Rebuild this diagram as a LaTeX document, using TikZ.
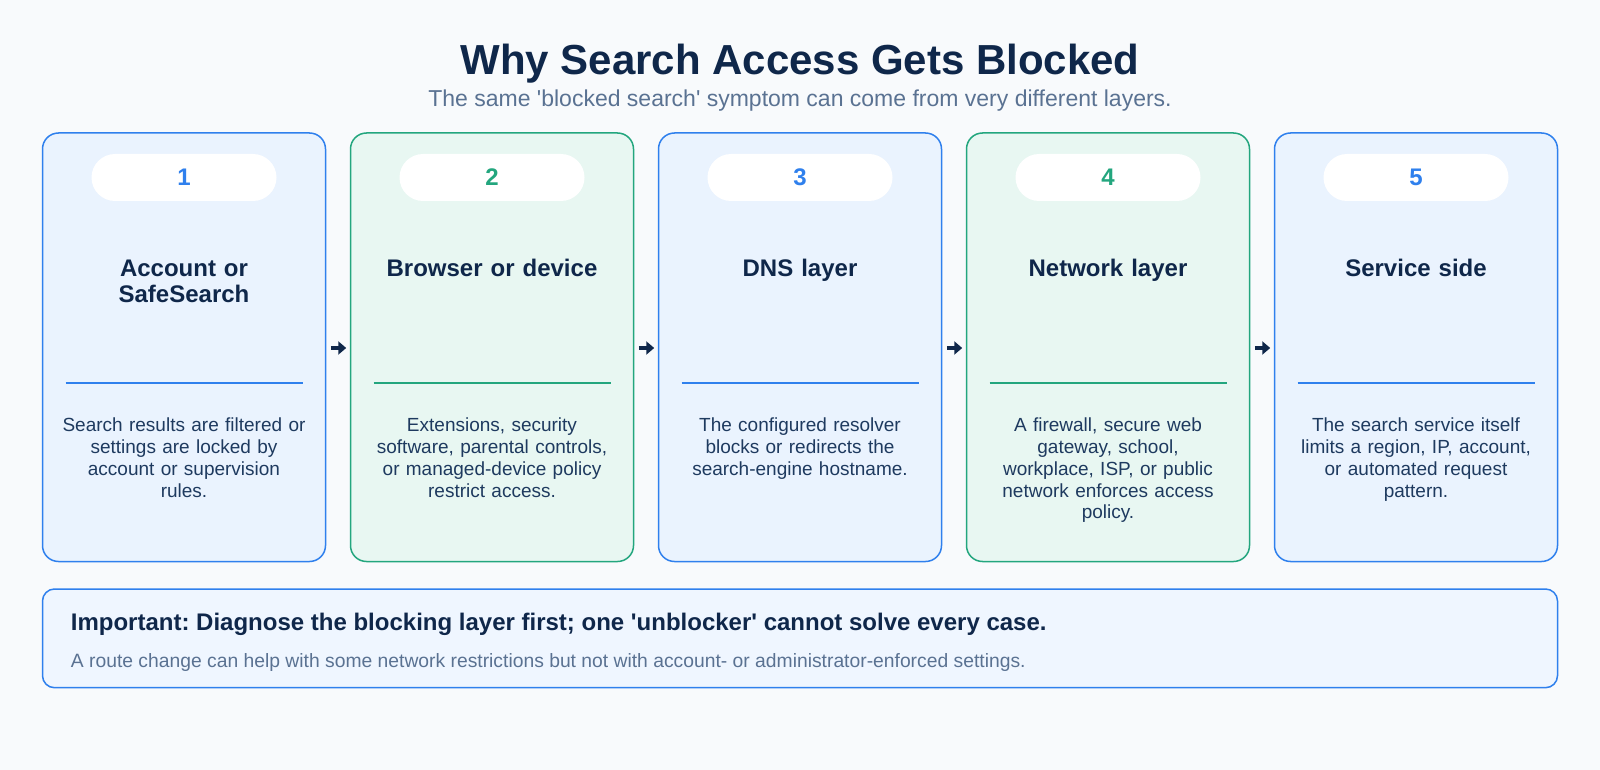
\documentclass[tikz,border=0pt]{standalone}
\usepackage{fontspec}
\setmainfont{Liberation Sans}
\frenchspacing
\usetikzlibrary{arrows.meta}
\definecolor{bg}{HTML}{F8FAFC}
\definecolor{navy}{HTML}{0F274A}
\definecolor{desc}{HTML}{1E3A5F}
\definecolor{slate}{HTML}{5A7292}
\definecolor{bluebd}{HTML}{2F80ED}
\definecolor{greenbd}{HTML}{23A67E}
\definecolor{bluefill}{HTML}{EAF3FE}
\definecolor{greenfill}{HTML}{E8F7F2}
\definecolor{notefill}{HTML}{EFF6FF}
\begin{document}
\begin{tikzpicture}[x=1pt,y=-1pt,
  card/.style={draw, line width=1.5pt, rounded corners=16pt, minimum width=283pt, minimum height=428.5pt, inner sep=0pt},
  bluecard/.style={card, draw=bluebd, fill=bluefill},
  greencard/.style={card, draw=greenbd, fill=greenfill},
  pill/.style={fill=white, rounded corners=23.5pt, minimum width=185pt, minimum height=47pt, inner sep=0pt, font=\fontsize{24}{28}\selectfont\bfseries},
  bluepill/.style={pill, text=bluebd},
  greenpill/.style={pill, text=greenbd},
  heading/.style={anchor=base, inner sep=0pt, text width=270pt, align=center, text=navy, font=\fontsize{24}{25.6}\selectfont\bfseries},
  desctext/.style={anchor=base, inner sep=0pt, text width=270pt, align=center, text=desc, font=\fontsize{19}{21.8}\selectfont},
  bluediv/.style={draw=bluebd, line width=1.8pt},
  greendiv/.style={draw=greenbd, line width=1.8pt},
  flow/.style={draw=navy, line width=4pt, -{Triangle[length=8pt,width=13pt]}},
]
\fill[bg] (0,0) rectangle (1600,770);
\useasboundingbox (0,0) rectangle (1600,770);

% title
\node[anchor=base, inner sep=0pt, text=navy, font=\fontsize{42}{50}\selectfont\bfseries] (title) at (800,74.3) {Why Search Access Gets Blocked};
\node[anchor=base, inner sep=0pt, text=slate, font=\fontsize{23}{27}\selectfont] (subtitle) at (800,106.7) {The same \textquotesingle blocked search\textquotesingle{} symptom can come from very different layers.};

% cards
\node[bluecard]  (c1) at (184,347.25) {};
\node[greencard] (c2) at (492,347.25) {};
\node[bluecard]  (c3) at (800,347.25) {};
\node[greencard] (c4) at (1108,347.25) {};
\node[bluecard]  (c5) at (1416,347.25) {};

% pills
\node[bluepill]  (p1) at (184,177.5) {1};
\node[greenpill] (p2) at (492,177.5) {2};
\node[bluepill]  (p3) at (800,177.5) {3};
\node[greenpill] (p4) at (1108,177.5) {4};
\node[bluepill]  (p5) at (1416,177.5) {5};

% headings
\node[heading] (h1) at (184,276.5) {Account or\\SafeSearch};
\node[heading] (h2) at (492,276) {Browser or device};
\node[heading] (h3) at (800,276) {DNS layer};
\node[heading] (h4) at (1108,276) {Network layer};
\node[heading] (h5) at (1416,276) {Service side};

% dividers
\draw[bluediv]  (65.5,382.7) -- (302.5,382.7);
\draw[greendiv] (373.5,382.7) -- (610.5,382.7);
\draw[bluediv]  (681.5,382.7) -- (918.5,382.7);
\draw[greendiv] (989.5,382.7) -- (1226.5,382.7);
\draw[bluediv]  (1297.5,382.7) -- (1534.5,382.7);

% descriptions
\node[desctext] (d1) at (184,431.7) {Search results are filtered or\\settings are locked by\\account or supervision\\rules.};
\node[desctext] (d2) at (492,431.7) {Extensions, security\\software, parental controls,\\or managed-device policy\\restrict access.};
\node[desctext] (d3) at (800,431.7) {The configured resolver\\blocks or redirects the\\search-engine hostname.};
\node[desctext] (d4) at (1108,431.7) {A firewall, secure web\\gateway, school,\\workplace, ISP, or public\\network enforces access\\policy.};
\node[desctext] (d5) at (1416,431.7) {The search service itself\\limits a region, IP, account,\\or automated request\\pattern.};

% arrows
\draw[flow] ([xshift=4.5pt,yshift=-0.75pt]c1.east) -- ([xshift=-3.5pt,yshift=-0.75pt]c2.west);
\draw[flow] ([xshift=4.5pt,yshift=-0.75pt]c2.east) -- ([xshift=-3.5pt,yshift=-0.75pt]c3.west);
\draw[flow] ([xshift=4.5pt,yshift=-0.75pt]c3.east) -- ([xshift=-3.5pt,yshift=-0.75pt]c4.west);
\draw[flow] ([xshift=4.5pt,yshift=-0.75pt]c4.east) -- ([xshift=-3.5pt,yshift=-0.75pt]c5.west);

% note box
\node[draw=bluebd, fill=notefill, line width=1.5pt, rounded corners=12pt, minimum width=1515pt, minimum height=98.7pt, inner sep=0pt] (note) at (800,638.35) {};
\node[anchor=base west, inner sep=0pt, text=navy, font=\fontsize{24}{28}\selectfont\bfseries] (notehead) at (70.7,630) {Important: Diagnose the blocking layer first; one \textquotesingle unblocker\textquotesingle{} cannot solve every case.};
\node[anchor=base west, inner sep=0pt, text=slate, font=\fontsize{19.3}{22}\selectfont] (notetext) at (70.7,667.7) {A route change can help with some network restrictions but not with account- or administrator-enforced settings.};
\end{tikzpicture}
\end{document}
